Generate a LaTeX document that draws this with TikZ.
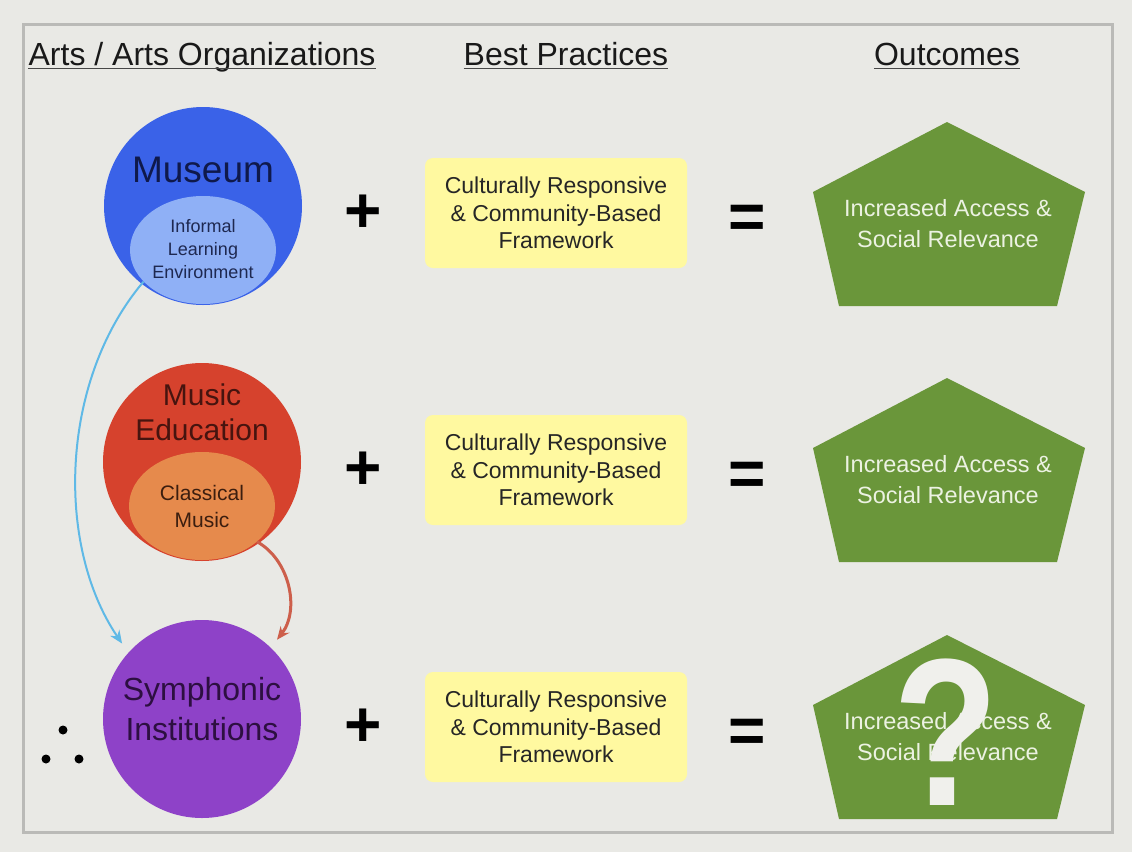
\documentclass[tikz,border=0pt]{standalone}
\usepackage{fontspec}
\setmainfont{Liberation Sans}
\usetikzlibrary{shapes.geometric,arrows.meta,calc}
\definecolor{bgc}{RGB}{233,233,229}
\definecolor{framec}{RGB}{186,186,183}
\definecolor{museumc}{RGB}{58,98,232}
\definecolor{museuminc}{RGB}{143,176,246}
\definecolor{musicc}{RGB}{214,66,45}
\definecolor{classc}{RGB}{230,138,76}
\definecolor{symphc}{RGB}{142,66,200}
\definecolor{yellowc}{RGB}{255,249,160}
\definecolor{greenc}{RGB}{106,150,58}
\definecolor{pentxt}{RGB}{236,242,226}
\definecolor{bluearr}{RGB}{95,185,230}
\definecolor{redarr}{RGB}{205,95,75}
\definecolor{qmark}{RGB}{240,240,236}
\definecolor{headc}{RGB}{25,25,25}
\newcommand{\fs}[2]{\fontsize{#1}{#2}\selectfont}
\begin{document}
\begin{tikzpicture}[x=1pt,y=-1pt,
  head/.style={inner sep=0pt,anchor=base,text=headc,font=\fs{32}{38}},
  ul/.style={draw=headc!80,line width=1.5pt},
  bigcirc/.style={circle,inner sep=0pt,minimum size=198pt},
  inell/.style={ellipse,inner sep=0pt,minimum width=146pt,minimum height=108pt},
  ybox/.style={rectangle,rounded corners=8pt,fill=yellowc,minimum width=262pt,minimum height=110pt,
    align=center,text=black!85,font=\fs{23}{27.5}},
  optext/.style={font=\bfseries\fs{64}{64},text=black,inner sep=0pt},
  pent/.style={fill=greenc},
  ptext/.style={align=center,text=pentxt,font=\fs{23.5}{31}},
  conn/.style={-{Stealth[length=13pt,width=11pt]}}
]
\useasboundingbox (0,0) rectangle (1132,852);
\fill[bgc] (0,0) rectangle (1132,852);
\draw[framec,line width=3pt] (23,24) rectangle (1112,832);

% headings
\node[head] (h1) at (202,65) {Arts / Arts Organizations};
\node[head] (h2) at (566,65) {Best Practices};
\node[head] (h3) at (947,65) {Outcomes};
\foreach \h in {h1,h2,h3}{
  \draw[ul] ([yshift=-3.5pt]\h.base west) -- ([yshift=-3.5pt]\h.base east);
}

% circles
\node[bigcirc,fill=museumc] (mus) at (203,206) {};
\node[inell,fill=museuminc] (mi) at (203,250) {};
\node[anchor=base,inner sep=0pt,font=\fs{37}{40},text={rgb,255:red,15;green,25;blue,75}] (must) at (203,182) {Museum};
\node[align=center,inner sep=0pt,font=\fs{18}{23},text={rgb,255:red,30;green,40;blue,80}] (mit) at (203,249) {Informal\\Learning\\Environment};

\node[bigcirc,fill=musicc] (mus2) at (202,462) {};
\node[inell,fill=classc] (ci) at (202,506) {};
\node[align=center,inner sep=0pt,font=\fs{30}{35},text={rgb,255:red,70;green,20;blue,15}] (mut) at (202,412) {Music\\Education};
\node[align=center,inner sep=0pt,font=\fs{21}{27},text={rgb,255:red,60;green,30;blue,15}] (cit) at (202,506) {Classical\\Music};

\node[bigcirc,fill=symphc] (sym) at (202,719) {};
\node[align=center,inner sep=0pt,font=\fs{32}{40},text={rgb,255:red,45;green,15;blue,65}] (symt) at (202,709) {Symphonic\\Institutions};

% therefore dots
\fill[black] (63,730) circle (4.5pt) (46,759) circle (4.5pt) (79,759) circle (4.5pt);

% arrows
\draw[conn,bluearr,line width=2pt,shorten >=11pt] (mi.208) .. controls (60,380) and (55,545) .. (sym.138);
\draw[conn,redarr,line width=3pt,shorten >=10pt] (ci.-33) .. controls (290,560) and (300,610) .. (sym.46);

% rows
\foreach \T/\yc/\n in {122/213/1,378/470/2,635/727/3}{
  \node[optext] (plus\n) at (363,\yc+1) {+};
  \node[ybox] (bp\n) at (556,\yc) {Culturally Responsive\\\& Community-Based\\Framework};
  \node[optext] (eq\n) at (747,\yc+9) {=};
  \fill[pent] (947,\T) -- (813,\T+70) -- (839,\T+184) -- (1057,\T+184) -- (1085,\T+70) -- cycle;
  \node[ptext] (out\n) at (948,\T+102) {Increased Access \&\\Social Relevance};
}
\node[anchor=base,inner sep=0pt,text=qmark,font=\bfseries\fs{210}{210}] (q) at (946,805) {\scalebox{0.82}[1]{?}};
\end{tikzpicture}
\end{document}
